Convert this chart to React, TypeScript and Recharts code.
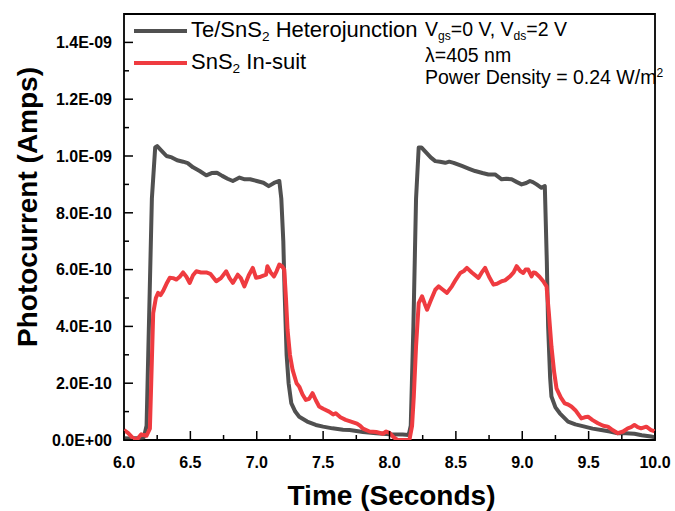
import { LineChart, Line, XAxis, YAxis, ReferenceArea, Label } from 'recharts';

// time in seconds, current in nA (x1e-9 A)
const heteroTime = [
  6.0, 6.05, 6.1, 6.15, 6.17, 6.19, 6.21, 6.235, 6.25, 6.28, 6.32, 6.36, 6.4, 6.445, 6.48, 6.52, 6.57,
  6.62, 6.66, 6.7, 6.74, 6.78, 6.82, 6.87, 6.91, 6.95, 7.0, 7.05, 7.09, 7.13, 7.17, 7.185, 7.2, 7.21,
  7.225, 7.24, 7.26, 7.29, 7.32, 7.38, 7.445, 7.5, 7.57, 7.65, 7.7, 7.8, 7.9, 8.0, 8.1, 8.145, 8.16,
  8.18, 8.2, 8.22, 8.24, 8.27, 8.31, 8.345, 8.38, 8.42, 8.45, 8.483, 8.545, 8.6, 8.645, 8.7, 8.745,
  8.795, 8.845, 8.88, 8.92, 8.96, 8.995, 9.03, 9.058, 9.08, 9.108, 9.145, 9.17, 9.185, 9.195, 9.21,
  9.22, 9.25, 9.283, 9.345, 9.4, 9.47, 9.53, 9.595, 9.66, 9.72, 9.78, 9.845, 9.9, 9.97, 10.0,
];
const heteroCurrent = [
  0.006, 0.005, 0.007, 0.01, 0.05, 0.45, 0.85, 1.03, 1.035, 1.02, 1.0, 0.995, 0.985, 0.98, 0.975, 0.96,
  0.947, 0.932, 0.94, 0.941, 0.93, 0.92, 0.912, 0.924, 0.918, 0.918, 0.912, 0.906, 0.894, 0.905, 0.912,
  0.85, 0.7, 0.52, 0.3, 0.2, 0.13, 0.1, 0.082, 0.065, 0.053, 0.047, 0.041, 0.036, 0.035, 0.028, 0.024,
  0.02, 0.019, 0.018, 0.05, 0.4, 0.85, 1.03, 1.03, 1.015, 0.995, 0.982, 0.98, 0.976, 0.98, 0.976, 0.965,
  0.955, 0.947, 0.94, 0.935, 0.935, 0.918, 0.92, 0.918, 0.908, 0.9, 0.905, 0.912, 0.908, 0.9, 0.888,
  0.894, 0.63, 0.4, 0.22, 0.153, 0.115, 0.094, 0.065, 0.055, 0.047, 0.04, 0.035, 0.03, 0.024, 0.024,
  0.022, 0.017, 0.012, 0.01,
];

const insuitTime = [
  6.0, 6.03, 6.06, 6.095, 6.13, 6.17, 6.195, 6.205, 6.22, 6.24, 6.257, 6.275, 6.295, 6.32, 6.345, 6.37,
  6.395, 6.42, 6.445, 6.47, 6.495, 6.52, 6.545, 6.58, 6.62, 6.65, 6.695, 6.73, 6.77, 6.795, 6.82, 6.857,
  6.88, 6.907, 6.94, 6.97, 6.995, 7.03, 7.07, 7.08, 7.105, 7.13, 7.15, 7.17, 7.19, 7.207, 7.22, 7.232,
  7.25, 7.27, 7.3, 7.32, 7.345, 7.37, 7.395, 7.42, 7.445, 7.47, 7.5, 7.545, 7.575, 7.595, 7.63, 7.67,
  7.71, 7.755, 7.78, 7.8, 7.85, 7.9, 7.95, 7.975, 8.0, 8.03, 8.06, 8.1, 8.15, 8.17, 8.183, 8.2, 8.22,
  8.245, 8.265, 8.283, 8.31, 8.345, 8.37, 8.4, 8.433, 8.47, 8.5, 8.533, 8.56, 8.583, 8.62, 8.67, 8.695,
  8.72, 8.75, 8.783, 8.81, 8.845, 8.87, 8.908, 8.935, 8.958, 8.985, 9.008, 9.025, 9.045, 9.07, 9.085,
  9.1, 9.13, 9.158, 9.183, 9.2, 9.22, 9.24, 9.258, 9.29, 9.32, 9.345, 9.37, 9.4, 9.445, 9.47, 9.495,
  9.53, 9.57, 9.61, 9.645, 9.68, 9.72, 9.76, 9.795, 9.82, 9.845, 9.87, 9.895, 9.935, 9.97, 10.0,
];
const insuitCurrent = [
  0.035, 0.025, 0.01, 0.0, 0.02, 0.015, 0.04, 0.2, 0.447, 0.5, 0.518, 0.51, 0.525, 0.55, 0.571, 0.57,
  0.565, 0.575, 0.59, 0.575, 0.553, 0.58, 0.594, 0.59, 0.59, 0.585, 0.559, 0.57, 0.594, 0.57, 0.553,
  0.582, 0.57, 0.541, 0.58, 0.606, 0.571, 0.575, 0.582, 0.612, 0.59, 0.576, 0.595, 0.618, 0.612, 0.6,
  0.5, 0.388, 0.3, 0.247, 0.2, 0.188, 0.16, 0.141, 0.145, 0.165, 0.14, 0.118, 0.11, 0.1, 0.09, 0.094,
  0.08, 0.071, 0.065, 0.058, 0.05, 0.04, 0.03, 0.028, 0.022, 0.03, 0.025, 0.01, 0.0, 0.0, 0.0, 0.05,
  0.153, 0.33, 0.482, 0.506, 0.48, 0.459, 0.49, 0.529, 0.541, 0.53, 0.518, 0.541, 0.565, 0.588, 0.595,
  0.606, 0.59, 0.571, 0.59, 0.606, 0.575, 0.547, 0.55, 0.559, 0.562, 0.576, 0.59, 0.612, 0.595, 0.588,
  0.6, 0.6, 0.576, 0.59, 0.588, 0.575, 0.559, 0.541, 0.45, 0.329, 0.24, 0.182, 0.15, 0.129, 0.125,
  0.118, 0.105, 0.076, 0.08, 0.082, 0.07, 0.059, 0.05, 0.047, 0.035, 0.024, 0.03, 0.041, 0.045, 0.053,
  0.045, 0.041, 0.047, 0.035, 0.03,
];

const xTicks = [6, 6.25, 6.5, 6.75, 7, 7.25, 7.5, 7.75, 8, 8.25, 8.5, 8.75, 9, 9.25, 9.5, 9.75, 10];
const yTicks = [0, 0.1, 0.2, 0.3, 0.4, 0.5, 0.6, 0.7, 0.8, 0.9, 1.0, 1.1, 1.2, 1.3, 1.4];

const heteroData = heteroTime.map((t, i) => ({ t, v: heteroCurrent[i] }));
const insuitData = insuitTime.map((t, i) => ({ t, v: insuitCurrent[i] }));

const DARK = '#505050';
const RED = '#ef3b40';
const FONT = '"Liberation Sans", Arial, sans-serif';

function fmtSci(nA: number) {
  if (nA === 0) return '0.0E+00';
  const [m, e] = (nA * 1e-9).toExponential(1).split('e');
  const n = parseInt(e, 10);
  return `${m}E${n < 0 ? '-' : '+'}${String(Math.abs(n)).padStart(2, '0')}`;
}

function YTick(props: any) {
  const { x, y, payload } = props;
  const major = Math.round(payload.value * 10) % 2 === 0;
  return (
    <g>
      <line x1={x} x2={x + (major ? 9 : 5)} y1={y} y2={y} stroke="#000" strokeWidth={1.5} />
      {major && (
        <text x={x - 12} y={y} dy="0.36em" textAnchor="end" fontFamily={FONT} fontWeight="bold" fontSize={16} fill="#000">
          {fmtSci(payload.value)}
        </text>
      )}
    </g>
  );
}

function XTick(props: any) {
  const { x, y, payload } = props;
  const major = Number.isInteger(payload.value * 2);
  return (
    <g>
      <line x1={x} x2={x} y1={y} y2={y - (major ? 9 : 5)} stroke="#000" strokeWidth={1.5} />
      {major && (
        <text x={x} y={y + 22} dy="0.36em" textAnchor="middle" fontFamily={FONT} fontWeight="bold" fontSize={16} fill="#000">
          {payload.value.toFixed(1)}
        </text>
      )}
    </g>
  );
}

const sub = { fontSize: '0.62em', position: 'relative' as const, top: '0.3em' };
const sup = { fontSize: '0.62em', position: 'relative' as const, top: '-0.55em' };

export default function App() {
  return (
    <div style={{ position: 'absolute', left: 0, top: 0, width: 675, height: 511, background: '#fff' }}>
      <LineChart width={675} height={511} margin={{ top: 14, right: 20, bottom: 0, left: 0 }}>
        <XAxis
          dataKey="t"
          type="number"
          domain={[6, 10]}
          ticks={xTicks}
          interval={0}
          allowDataOverflow
          height={71}
          axisLine={false}
          tickLine={false}
          tickSize={0}
          tickMargin={0}
          tick={<XTick />}
        >
          <Label
            content={({ viewBox }: any) => (
              <text
                x={viewBox.x + viewBox.width / 2 + 2}
                y={viewBox.y + 55}
                dy="0.36em"
                textAnchor="middle"
                fontFamily={FONT}
                fontWeight="bold"
                fontSize={28}
                fill="#000"
              >
                Time (Seconds)
              </text>
            )}
          />
        </XAxis>
        <YAxis
          type="number"
          domain={[0, 1.5]}
          ticks={yTicks}
          interval={0}
          allowDataOverflow
          width={124}
          axisLine={false}
          tickLine={false}
          tickSize={0}
          tickMargin={0}
          tick={<YTick />}
        >
          <Label
            content={({ viewBox }: any) => {
              const cx = viewBox.x + 27;
              const cy = viewBox.y + viewBox.height / 2 - 20;
              return (
                <text
                  x={cx}
                  y={cy}
                  dy="0.36em"
                  transform={`rotate(-90 ${cx} ${cy})`}
                  textAnchor="middle"
                  fontFamily={FONT}
                  fontWeight="bold"
                  fontSize={28}
                  fill="#000"
                >
                  Photocurrent (Amps)
                </text>
              );
            }}
          />
        </YAxis>
        <ReferenceArea x1={6} x2={10} y1={0} y2={1.5} fill="none" stroke="#000" strokeWidth={1.8} ifOverflow="visible" />
        <Line
          data={heteroData}
          dataKey="v"
          type="linear"
          stroke={DARK}
          strokeWidth={4}
          strokeLinejoin="round"
          dot={false}
          isAnimationActive={false}
        />
        <Line
          data={insuitData}
          dataKey="v"
          type="linear"
          stroke={RED}
          strokeWidth={4}
          strokeLinejoin="round"
          dot={false}
          isAnimationActive={false}
        />
      </LineChart>

      {/* legend */}
      <div style={{ position: 'absolute', left: 134, top: 16, fontFamily: FONT, fontSize: 22, color: '#000' }}>
        <div style={{ display: 'flex', alignItems: 'center', height: 28, marginBottom: 4 }}>
          <div style={{ width: 53, height: 4.5, background: DARK, marginRight: 4, marginTop: 2 }} />
          <span>
            Te/SnS<span style={sub}>2</span> Heterojunction
          </span>
        </div>
        <div style={{ display: 'flex', alignItems: 'center', height: 28 }}>
          <div style={{ width: 53, height: 4.5, background: RED, marginRight: 4, marginTop: 2 }} />
          <span>
            SnS<span style={sub}>2</span> In-suit
          </span>
        </div>
      </div>

      {/* measurement conditions */}
      <div style={{ position: 'absolute', left: 425, top: 18, fontFamily: FONT, fontSize: 19.5, lineHeight: '22.5px', color: '#000', whiteSpace: 'nowrap' }}>
        <div>
          V<span style={sub}>gs</span>=0 V, V<span style={sub}>ds</span>=2 V
        </div>
        <div>λ=405 nm</div>
        <div>
          Power Density = 0.24 W/m<span style={sup}>2</span>
        </div>
      </div>
    </div>
  );
}
